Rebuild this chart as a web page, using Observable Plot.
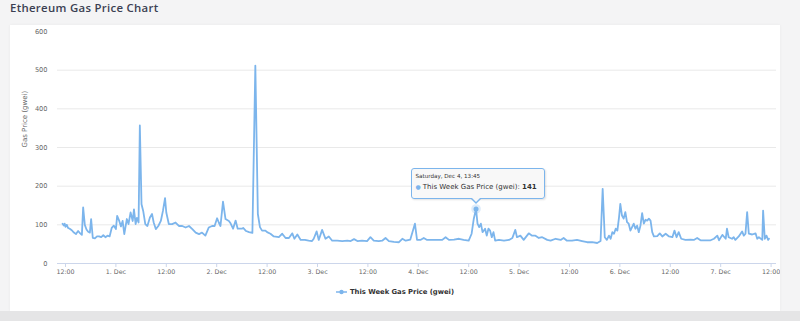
<!DOCTYPE html>
<html>
<head>
<meta charset="utf-8">
<script src="https://cdn.jsdelivr.net/npm/d3@7"></script>
<script src="https://cdn.jsdelivr.net/npm/@observablehq/plot@0.6"></script>
<style>
  html, body { margin: 0; padding: 0; }
  body { width: 800px; height: 321px; background: #f4f4f5; position: relative; overflow: hidden; font-family: "DejaVu Sans", sans-serif; }
  #title { position: absolute; left: 10px; top: 0px; font: 600 11.4px "Open Sans", sans-serif; letter-spacing: 0.3px; color: #3b3f52; white-space: nowrap; }
  #card { position: absolute; left: 10px; top: 25px; width: 770px; height: 286px; background: #fff; box-shadow: 0 0 3px rgba(0,0,0,0.05); overflow: hidden; }
  #chart { position: absolute; left: 0; top: 0; }
  #bottom { position: absolute; left: 0; top: 311px; width: 800px; height: 10px; background: #e5e5e6; }
  .tip { position: absolute; box-sizing: border-box; width: 134px; height: 31px; background: rgba(247,247,247,0.92); border: 1px solid #7cb5ec; border-radius: 3px; box-shadow: 1px 1px 2px rgba(0,0,0,0.12); font-family: "DejaVu Sans", sans-serif; color: #333; }
  .tip .l1 { position: absolute; left: 4px; top: 4px; font-size: 5.6px; white-space: nowrap; }
  .tip .l2 { position: absolute; left: 4px; top: 14px; font-size: 7px; white-space: nowrap; }
  .tip .l2 .b { color: #7cb5ec; font-size: 6px; margin-right: 2px; }
  .arrow { position: absolute; width: 0; height: 0; border-left: 5px solid transparent; border-right: 5px solid transparent; border-top: 5px solid #7cb5ec; }
  .arrow2 { position: absolute; width: 0; height: 0; border-left: 4px solid transparent; border-right: 4px solid transparent; border-top: 4px solid #f7f7f7; }
  #legend { position: absolute; top: 263px; left: 0; width: 770px; text-align: center; font: bold 6.8px "DejaVu Sans", sans-serif; color: #333; }
  #legend svg { vertical-align: middle; margin-right: 3px; }
  #legend span { vertical-align: middle; }
</style>
</head>
<body>
<div id="title">Ethereum Gas Price Chart</div>
<div id="card"><div id="chart"></div></div>
<div id="bottom"></div>
<script>
// ---- data ----
const seriesName = "This Week Gas Price (gwei)";
const yAxisTitle = "Gas Price (gwei)";
const startTime = "2021-11-30T12:00:00Z";
const hoursFromStart = [
  -0.7,-0.4,-0.2,0,0.3,0.6,1,1.5,2,2.5,3,3.5,3.9,4.2,4.6,5,5.4,5.8,6.1,6.5,7,7.5,8,8.5,9,9.5,10,10.5,11,11.5,
  12,12.3,12.8,13.2,13.6,14,14.6,15,15.5,16,16.3,16.7,17,17.4,17.7,18.1,18.5,19,19.5,20.1,20.6,21,21.5,22.1,22.7,23.2,23.7,
  24,24.6,25.4,26.2,27,27.8,28.6,29.4,30.2,31,31.8,32.5,33.3,34.1,34.9,35.5,36.1,36.5,36.9,37.5,38.1,38.9,39.3,39.9,40.5,
  41,42,42.3,43,43.7,44.5,45.2,45.8,46.3,46.8,47.6,48,48.8,49.6,50.8,51.6,52.4,53.2,54,54.5,55.2,56,57,57.9,58.7,59.1,59.8,
  60.3,61.1,61.9,62.7,63.5,64.7,65.9,67.1,67.9,68.7,69.5,70.6,71.8,72.6,73.4,74.6,75.4,76.2,77,78.2,79.4,80.2,81,82.1,83.2,
  83.7,84.5,85.3,86.1,87.3,88.5,89.7,90.5,91.3,92.5,93.7,94.8,96,96.7,97.2,97.75,98.1,98.5,98.9,99.3,99.9,100.3,100.7,101.1,
  101.5,101.9,102.3,103.2,104.4,105.6,106.4,107.1,107.5,108.3,109.1,110.3,111.1,111.9,112.7,113.5,114.7,115.5,116.7,117.9,
  118.6,119.4,120.6,121.8,123,124.2,125.4,126.6,127.4,127.9,128.4,128.9,129.4,129.8,130.2,130.6,131,131.4,131.8,132.1,132.5,
  132.9,133.3,133.7,134.1,134.5,134.9,135.3,135.7,136.1,136.5,136.9,137.3,137.7,138.1,138.5,138.9,139.3,139.7,140.1,140.9,
  141.5,142.1,142.9,143.7,144.5,145,145.5,146,146.6,147.6,148.8,149.6,150.4,151.2,152.4,153.6,154.4,155.2,155.6,156.4,157.2,
  157.5,157.9,158.7,159.1,159.5,160.3,161.1,161.5,161.9,162.3,162.7,163.5,164.3,164.7,165.1,165.9,166.1,166.5,166.9,167.3,167.5
];
const gasGwei = [
  103,98,103,95,100,92,90,86,80,76,84,78,74,145,100,88,82,80,115,66,65,70,70,68,73,68,72,70,92,98,
  89,123,110,96,110,76,115,102,132,110,140,102,118,106,357,153,136,102,97,119,128,106,89,97,110,136,169,
  132,102,102,106,97,97,93,97,89,80,76,80,72,93,97,97,117,106,97,160,115,110,104,90,111,
  90,90,92,84,81,79,512,128,94,85,85,81,77,70,68,77,66,66,78,64,75,61,61,59,58,64,83,
  61,87,64,70,59,59,58,59,58,63,58,59,58,68,59,58,59,66,58,56,55,64,59,62,103,
  61,61,66,61,61,61,61,68,61,62,64,61,59,77,115,141,103,94,103,81,90,72,90,85,
  68,81,59,61,59,61,66,87,68,72,61,78,72,72,66,68,61,59,64,61,
  66,59,59,61,58,55,55,53,58,193,68,61,72,64,81,77,90,85,120,154,124,
  116,133,107,103,85,94,103,90,98,81,98,130,103,113,111,116,111,81,70,71,
  78,70,77,70,68,85,68,81,64,61,62,61,66,60,60,60,64,72,60,74,64,
  90,68,64,68,61,70,83,72,77,133,77,75,78,64,68,61,137,64,72,61,64
];
const yTicks = [0, 100, 200, 300, 400, 500, 600];
const yGrid = [100, 200, 300, 400, 500];
const xTickTimes = [
  "2021-11-30T12:00:00Z","2021-12-01T00:00:00Z","2021-12-01T12:00:00Z","2021-12-02T00:00:00Z",
  "2021-12-02T12:00:00Z","2021-12-03T00:00:00Z","2021-12-03T12:00:00Z","2021-12-04T00:00:00Z",
  "2021-12-04T12:00:00Z","2021-12-05T00:00:00Z","2021-12-05T12:00:00Z","2021-12-06T00:00:00Z",
  "2021-12-06T12:00:00Z","2021-12-07T00:00:00Z","2021-12-07T12:00:00Z"
];
const xTickLabels = ["12:00","1. Dec","12:00","2. Dec","12:00","3. Dec","12:00","4. Dec","12:00","5. Dec","12:00","6. Dec","12:00","7. Dec","12:00"];
const hoverTime = "2021-12-04T13:45:00Z";
const hoverValue = 141;
const hoverLabel = "Saturday, Dec 4, 13:45";

// ---- build ----
const H = 3600e3;
const t0 = Date.parse(startTime);
const data = hoursFromStart.map((h, i) => ({date: new Date(t0 + h * H), gas: gasGwei[i]}));
const ticks = xTickTimes.map(s => new Date(s));
const labelOf = new Map(ticks.map((d, i) => [+d, xTickLabels[i]]));
const hover = [{date: new Date(hoverTime), gas: hoverValue}];
const lineColor = "#7cb5ec";

const chart = Plot.plot({
  width: 770, height: 258,
  marginTop: 6, marginBottom: 20, marginLeft: 47, marginRight: 4,
  style: {fontFamily: "'DejaVu Sans', sans-serif", background: "transparent", overflow: "visible"},
  x: {type: "utc", domain: [new Date(t0 - 1.905 * H), new Date(t0 + 169.29 * H)]},
  y: {domain: [0, 600]},
  marks: [
    Plot.ruleY(yGrid, {stroke: "#e9e9e9", strokeWidth: 1}),
    Plot.ruleY([0], {stroke: "#ccd6eb", strokeWidth: 1}),
    Plot.axisX(ticks, {tickSize: 4, tickPadding: 2, tickFormat: d => labelOf.get(+d), stroke: "#ccd6eb", fill: "#666", fontSize: 6.3, label: null}),
    Plot.axisY(yTicks, {tickSize: 0, tickPadding: 10, fill: "#666", fontSize: 6.6, label: null}),
    Plot.text([yAxisTitle], {text: d => d, frameAnchor: "left", rotate: -90, dx: -33, fill: "#666", fontSize: 7}),
    Plot.line(data, {x: "date", y: "gas", stroke: lineColor, strokeWidth: 1.8, strokeLinejoin: "round"}),
    Plot.dot(hover, {x: "date", y: "gas", r: 4.8, fill: lineColor, fillOpacity: 0.25, stroke: null}),
    Plot.dot(hover, {x: "date", y: "gas", r: 2.5, fill: lineColor, stroke: null})
  ]
});
document.getElementById("chart").appendChild(chart);

// tooltip anchored through the chart's own scales
const px = chart.scale("x").apply(hover[0].date);
const py = chart.scale("y").apply(hoverValue);
const card = document.getElementById("card");
const tip = document.createElement("div");
tip.className = "tip";
tip.style.left = (px - 65) + "px";
tip.style.top = (py - 40) + "px";
tip.innerHTML = `<div class="l1"></div><div class="l2"><span class="b">●</span><span class="n"></span><b class="v"></b></div>`;
tip.querySelector(".l1").textContent = hoverLabel;
tip.querySelector(".n").textContent = seriesName + ": ";
tip.querySelector(".v").textContent = String(hoverValue);
card.appendChild(tip);
const ar = document.createElement("div");
ar.className = "arrow";
ar.style.left = (px - 5) + "px";
ar.style.top = (py - 9) + "px";
card.appendChild(ar);
const ar2 = document.createElement("div");
ar2.className = "arrow2";
ar2.style.left = (px - 4) + "px";
ar2.style.top = (py - 10) + "px";
card.appendChild(ar2);

// legend
const lg = document.createElement("div");
lg.id = "legend";
lg.innerHTML = `<svg width="11" height="6"><line x1="0" y1="3" x2="11" y2="3" stroke="${lineColor}" stroke-width="1.5"/><circle cx="5.5" cy="3" r="2.2" fill="${lineColor}"/></svg><span></span>`;
lg.querySelector("span").textContent = seriesName;
card.appendChild(lg);
</script>
</body>
</html>
